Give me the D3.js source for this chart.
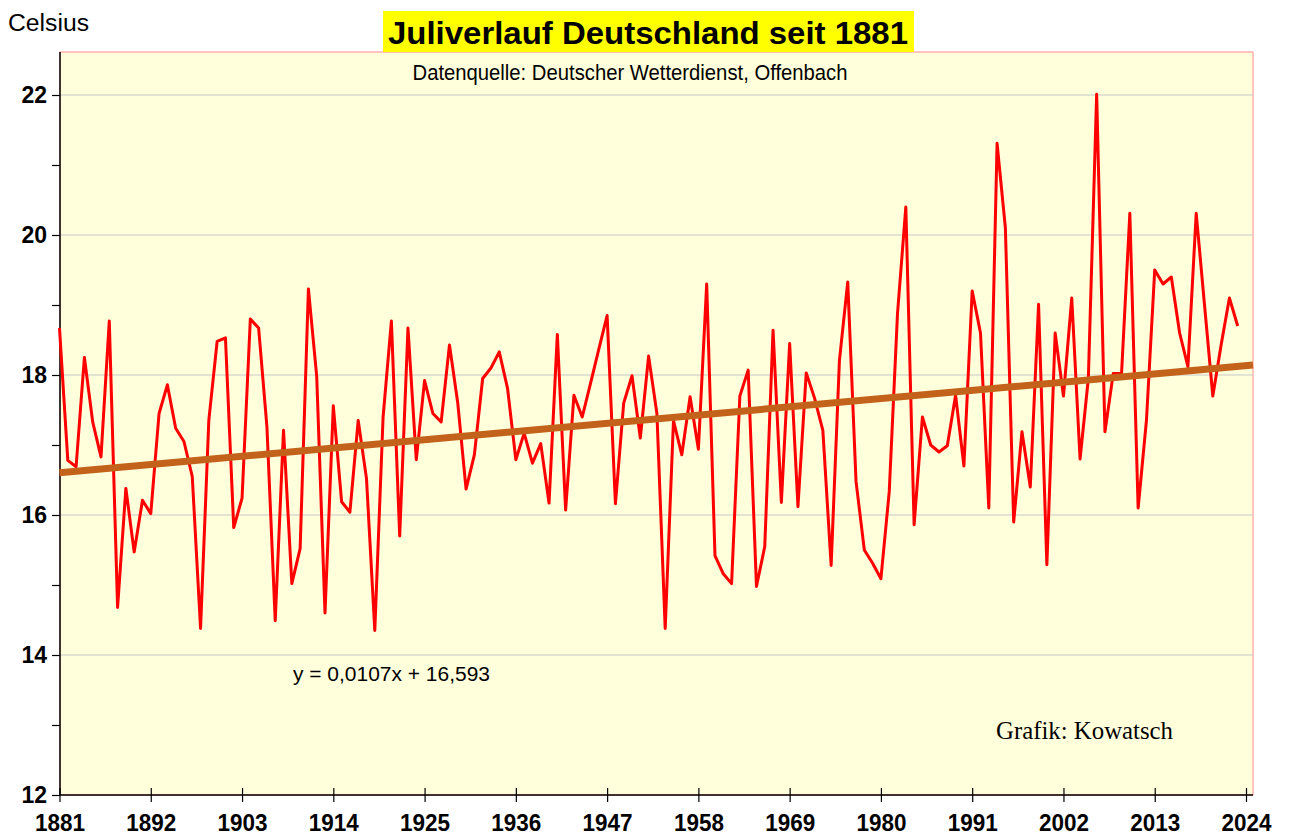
<!DOCTYPE html>
<html>
<head>
<meta charset="utf-8">
<script src="https://cdn.jsdelivr.net/npm/d3@7"></script>
<style>
  body { margin: 0; background: #fff; }
  svg text { font-family: "Liberation Sans", Arial, sans-serif; }
</style>
</head>
<body>
<div id="chart-container"></div>
<script>
// Juli-Mitteltemperaturen Deutschland, 1881..2023
const startYear = 1881;
const julyTemps = [
  18.67, 16.78, 16.69, 18.25, 17.33, 16.83, 18.77, 14.68, 16.38, 15.47,
  16.21, 16.02, 17.45, 17.86, 17.24, 17.05, 16.55, 14.38, 17.36, 18.48,
  18.53, 15.82, 16.24, 18.80, 18.67, 17.26, 14.49, 17.21, 15.02, 15.52,
  19.23, 17.98, 14.60, 17.56, 16.19, 16.04, 17.35, 16.52, 14.35, 17.40,
  18.77, 15.70, 18.67, 16.79, 17.92, 17.45, 17.33, 18.43, 17.60, 16.37,
  16.86, 17.95, 18.10, 18.33, 17.81, 16.79, 17.17, 16.74, 17.02, 16.17,
  18.58, 16.07, 17.71, 17.40, 17.88, 18.37, 18.85, 16.16, 17.60, 17.99,
  17.10, 18.27, 17.45, 14.38, 17.35, 16.86, 17.69, 16.94, 19.30, 15.42,
  15.16, 15.02, 17.70, 18.07, 14.98, 15.55, 18.64, 16.18, 18.45, 16.12,
  18.03, 17.67, 17.21, 15.28, 18.21, 19.33, 16.48, 15.50, 15.31, 15.09,
  16.33, 18.88, 20.40, 15.86, 17.40, 17.00, 16.90, 16.99, 17.71, 16.70,
  19.20, 18.60, 16.10, 21.31, 20.10, 15.90, 17.19, 16.40, 19.01, 15.29,
  18.60, 17.70, 19.10, 16.80, 17.95, 22.01, 17.19, 18.02, 18.02, 20.31,
  16.10, 17.35, 19.50, 19.30, 19.40, 18.60, 18.12, 20.31, 19.00, 17.70,
  18.43, 19.10, 18.70
];
const yearTicks = [1881, 1892, 1903, 1914, 1925, 1936, 1947, 1958, 1969, 1980, 1991, 2002, 2013, 2024];
const tempTicks = [12, 14, 16, 18, 20, 22];
const trendSlope = 0.0107;
const trendIntercept = 16.593;

const data = julyTemps.map((t, i) => ({ year: startYear + i, temp: t }));

const width = 1291, height = 836;
const plot = { left: 60, right: 1253, top: 52, bottom: 795 };

const svg = d3.select("#chart-container").append("svg")
    .attr("width", width)
    .attr("height", height);

const x = d3.scaleLinear().domain([1881, 2024]).range([59.5, 1246]);
const y = d3.scaleLinear().domain([12, 22]).range([795, 95]);

// plot background
svg.append("rect")
    .attr("x", plot.left).attr("y", plot.top)
    .attr("width", plot.right - plot.left)
    .attr("height", plot.bottom - plot.top)
    .attr("fill", "#ffffdc")
    .attr("stroke", "#ff8c8c")
    .attr("stroke-width", 1);

// gridlines
svg.append("g")
    .selectAll("line")
    .data(tempTicks.filter(d => d > 12))
    .join("line")
    .attr("x1", plot.left).attr("x2", plot.right)
    .attr("y1", d => y(d)).attr("y2", d => y(d))
    .attr("stroke", "#c8c8c8")
    .attr("stroke-width", 1.2);

// y axis
const yAxis = svg.append("g")
    .attr("transform", `translate(${plot.left},0)`)
    .call(d3.axisLeft(y).tickValues(d3.range(12, 23, 1)).tickSize(8).tickFormat(d => d % 2 === 0 ? d : ""));
yAxis.select(".domain").attr("stroke", "#000").attr("stroke-width", 1.5)
    .attr("d", `M0,${plot.top}V${plot.bottom}`);
yAxis.selectAll(".tick line").attr("stroke", "#000").attr("stroke-width", 1.2);
yAxis.selectAll(".tick text")
    .attr("x", -13)
    .attr("font-size", 23)
    .attr("font-weight", "bold")
    .attr("fill", "#000")
    .style("font-family", "'Liberation Sans', Arial, sans-serif");

// x axis
const xAxis = svg.append("g")
    .attr("transform", `translate(0,${plot.bottom})`)
    .call(d3.axisBottom(x).tickValues(yearTicks).tickSize(7).tickFormat(d3.format("d")));
xAxis.select(".domain").attr("stroke", "#000").attr("stroke-width", 1.5)
    .attr("d", `M${plot.left},0H${plot.right}`);
xAxis.selectAll(".tick line").attr("stroke", "#000").attr("stroke-width", 1.2).attr("y1", -7);
xAxis.selectAll(".tick text")
    .attr("y", 19)
    .attr("font-size", 24)
    .attr("font-weight", "bold")
    .attr("fill", "#000")
    .attr("textLength", 50)
    .attr("lengthAdjust", "spacingAndGlyphs")
    .style("font-family", "'Liberation Sans', Arial, sans-serif");

// data line
const line = d3.line().x(d => x(d.year)).y(d => y(d.temp));
svg.append("path")
    .datum(data)
    .attr("fill", "none")
    .attr("stroke", "#ff0000")
    .attr("stroke-width", 3)
    .attr("stroke-linejoin", "round")
    .attr("d", line);

// linear trend (Excel: x = 1 for 1881)
const trendEnd = x.invert(plot.right);
const trendData = [startYear, trendEnd].map(yr => ({ year: yr, temp: trendIntercept + trendSlope * (yr - startYear + 1) }));
svg.append("path")
    .datum(trendData)
    .attr("fill", "none")
    .attr("stroke", "#c3621a")
    .attr("stroke-width", 7)
    .attr("d", line);

// texts
svg.append("rect")
    .attr("x", 383).attr("y", 11)
    .attr("width", 531).attr("height", 41)
    .attr("fill", "#ffff00");
svg.append("text")
    .attr("x", 648).attr("y", 44)
    .attr("text-anchor", "middle")
    .attr("font-size", 32)
    .attr("font-weight", "bold")
    .attr("textLength", 520)
    .attr("lengthAdjust", "spacingAndGlyphs")
    .text("Juliverlauf Deutschland seit 1881");

svg.append("text")
    .attr("x", 8).attr("y", 31)
    .attr("font-size", 23)
    .attr("textLength", 81)
    .attr("lengthAdjust", "spacingAndGlyphs")
    .text("Celsius");

svg.append("text")
    .attr("x", 630).attr("y", 80)
    .attr("text-anchor", "middle")
    .attr("font-size", 22)
    .attr("textLength", 435)
    .attr("lengthAdjust", "spacingAndGlyphs")
    .text("Datenquelle: Deutscher Wetterdienst, Offenbach");

svg.append("text")
    .attr("x", 293).attr("y", 681)
    .attr("font-size", 20)
    .attr("textLength", 197)
    .attr("lengthAdjust", "spacingAndGlyphs")
    .text("y = 0,0107x + 16,593");

svg.append("text")
    .attr("x", 996).attr("y", 739)
    .attr("font-size", 25)
    .attr("textLength", 177)
    .attr("lengthAdjust", "spacingAndGlyphs")
    .style("font-family", "'Liberation Serif', 'Times New Roman', serif")
    .text("Grafik: Kowatsch");
</script>
</body>
</html>
